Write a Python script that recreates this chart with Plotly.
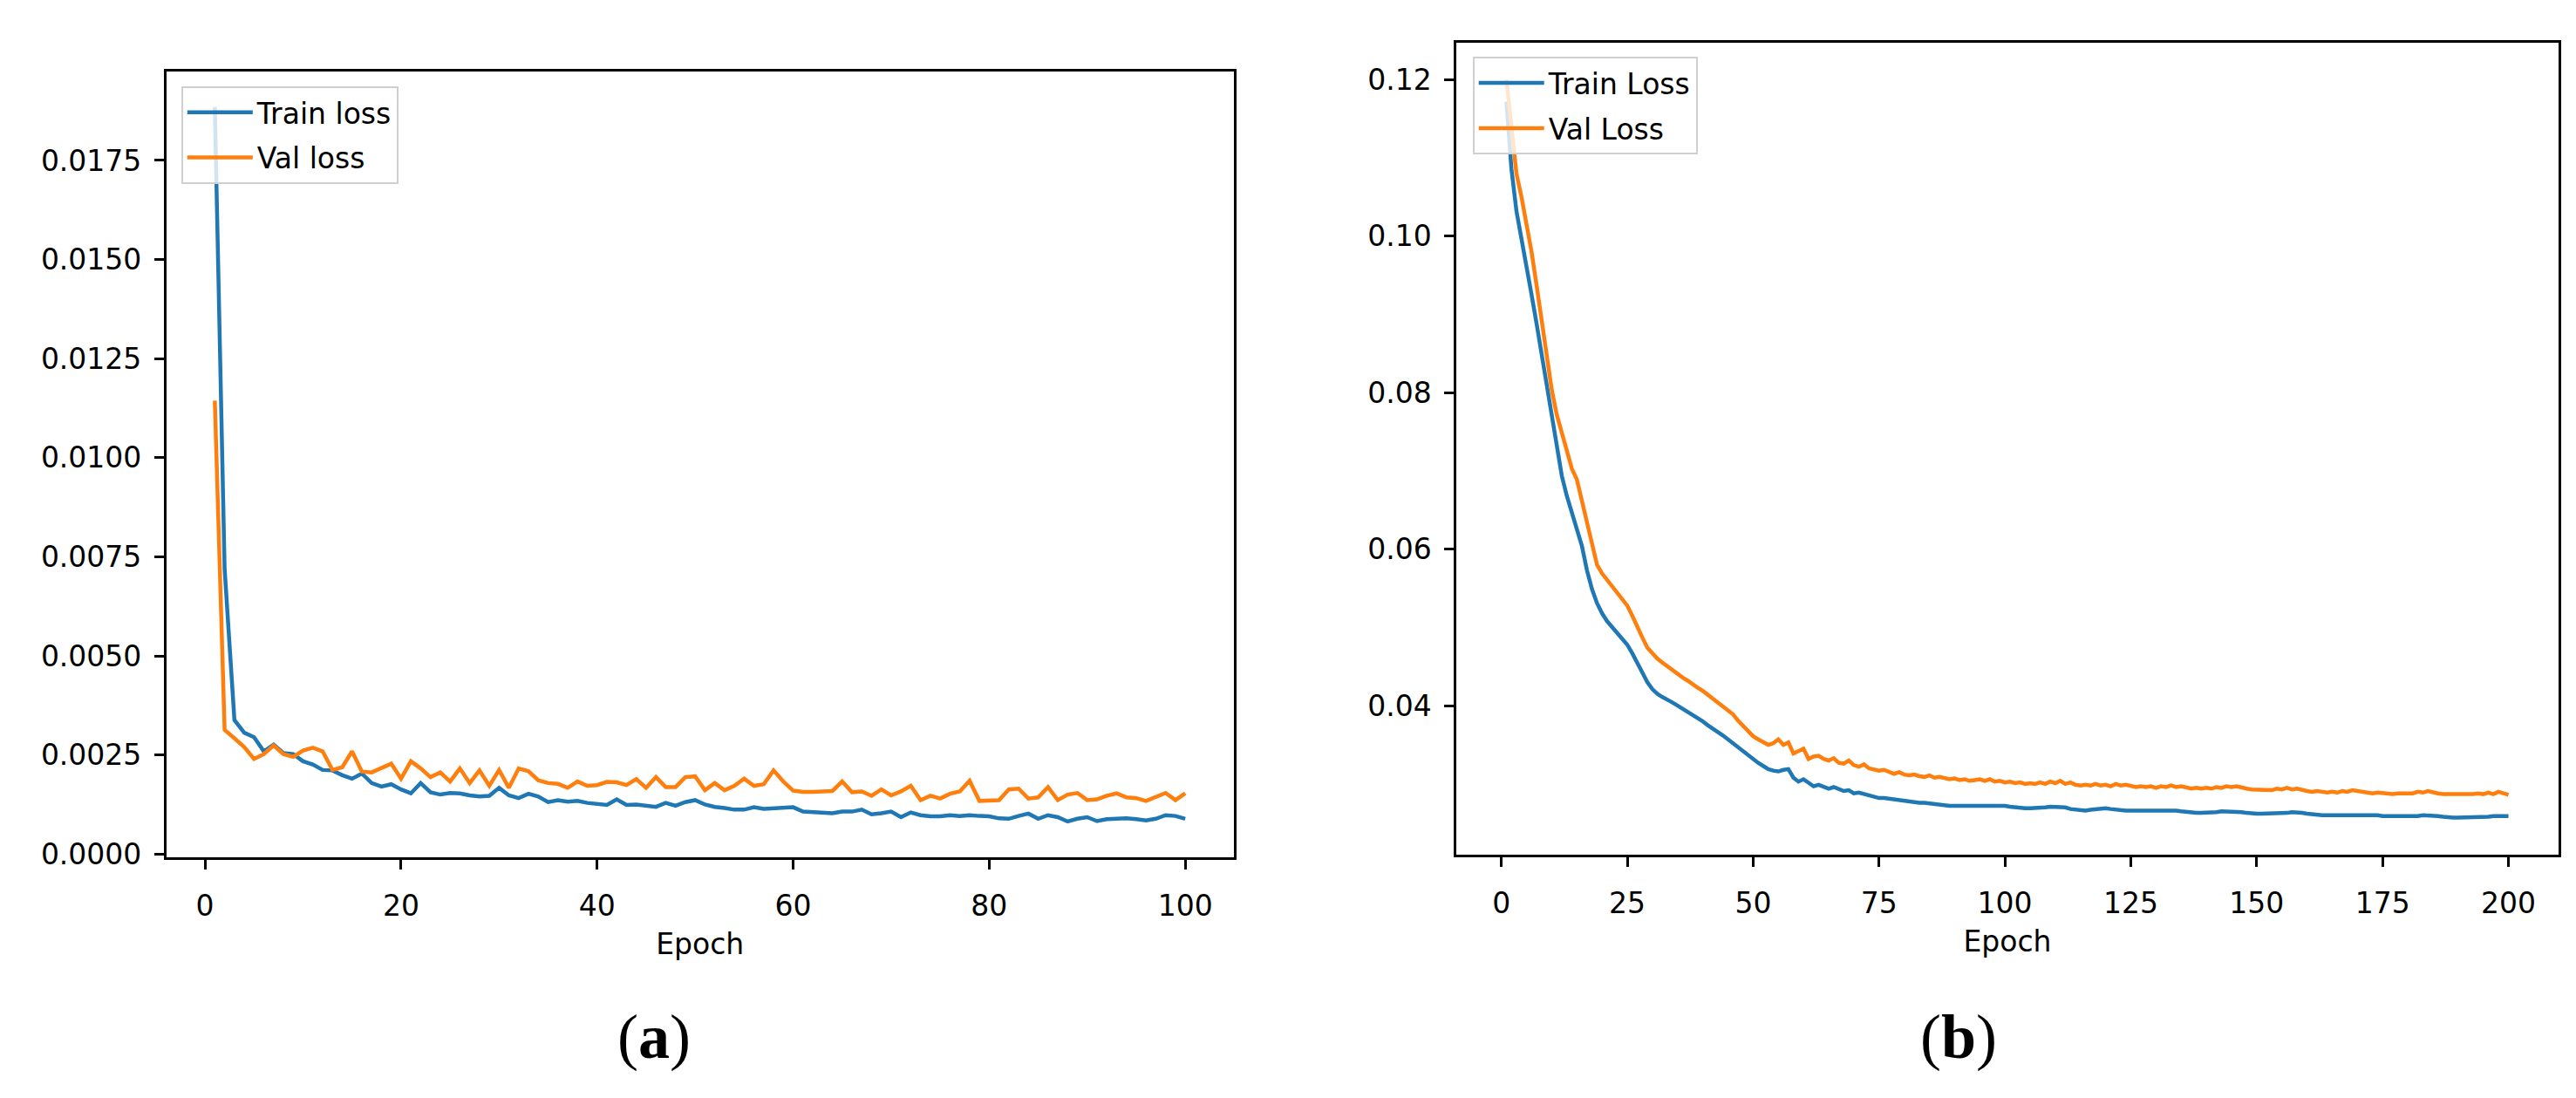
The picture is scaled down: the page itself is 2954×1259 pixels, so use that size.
import plotly.graph_objects as go

# ---------------- data: panel (a) ----------------
train_a = [0.01885, 0.0072, 0.00338, 0.00306, 0.00295, 0.00259, 0.00276, 0.00255, 0.00252, 0.00234,
           0.00226, 0.00212, 0.00211, 0.00199, 0.00190, 0.00203, 0.00179, 0.00170, 0.00176, 0.00163,
           0.00153, 0.00179, 0.00156, 0.00150, 0.00154, 0.00153, 0.00148, 0.00145, 0.00147, 0.00167,
           0.00148, 0.00141, 0.00152, 0.00145, 0.00131, 0.00136, 0.00132, 0.00134, 0.00129, 0.00127,
           0.00124, 0.00138, 0.00124, 0.00125, 0.00122, 0.00119, 0.00129, 0.00122, 0.00131, 0.00136,
           0.00125, 0.00119, 0.00116, 0.00112, 0.00112, 0.00118, 0.00114, 0.00116, 0.00118, 0.00118,
           0.00107, 0.00106, 0.00103, 0.00103, 0.00107, 0.00107, 0.00112, 0.00100, 0.00103, 0.00107,
           0.00093, 0.00105, 0.00098, 0.00095, 0.00095, 0.00098, 0.00096, 0.00098, 0.00096, 0.00095,
           0.00090, 0.00089, 0.00096, 0.00102, 0.00089, 0.00098, 0.00093, 0.00082, 0.00089, 0.00093,
           0.00083, 0.00088, 0.00089, 0.00090, 0.00088, 0.00085, 0.00089, 0.00098, 0.00096, 0.00089]
val_a = [0.01144, 0.00313, 0.00292, 0.00270, 0.00240, 0.00252, 0.00274, 0.00252, 0.00245, 0.00261,
         0.00268, 0.00259, 0.00212, 0.00219, 0.00259, 0.00208, 0.00206, 0.00216, 0.00228, 0.00190,
         0.00234, 0.00216, 0.00194, 0.00206, 0.00183, 0.00216, 0.00179, 0.00211, 0.00172, 0.00212,
         0.00167, 0.00216, 0.00209, 0.00186, 0.00179, 0.00177, 0.00167, 0.00183, 0.00172, 0.00174,
         0.00182, 0.00181, 0.00174, 0.00189, 0.00167, 0.00194, 0.00169, 0.00169, 0.00194, 0.00196,
         0.00161, 0.00179, 0.00161, 0.00172, 0.00190, 0.00172, 0.00176, 0.00211, 0.00183, 0.00160,
         0.00157, 0.00157, 0.00159, 0.00159, 0.00183, 0.00156, 0.00158, 0.00147, 0.00163, 0.00148,
         0.00158, 0.00172, 0.00136, 0.00147, 0.00140, 0.00152, 0.00158, 0.00185, 0.00134, 0.00136,
         0.00136, 0.00163, 0.00165, 0.00140, 0.00143, 0.00169, 0.00136, 0.00150, 0.00154, 0.00136,
         0.00138, 0.00147, 0.00153, 0.00143, 0.00141, 0.00134, 0.00143, 0.00154, 0.00136, 0.00153]
epochs_a = list(range(1, len(train_a) + 1))

# ---------------- data: panel (b) ----------------
train_b = [0.1172, 0.1086, 0.1032, 0.0998, 0.0962, 0.0925, 0.0888, 0.0848, 0.0811, 0.0775,
           0.0733, 0.0694, 0.0668, 0.0647, 0.0626, 0.0604, 0.0573, 0.0549, 0.0531, 0.0518,
           0.0508, 0.0500, 0.0494, 0.0486, 0.0478, 0.0467, 0.0455, 0.0442, 0.0430, 0.0421,
           0.0415, 0.0411, 0.0408, 0.0404, 0.0400, 0.0396, 0.0393, 0.0389, 0.0384, 0.0380,
           0.0375, 0.0371, 0.0367, 0.0362, 0.0357, 0.0352, 0.0346, 0.0341, 0.0336, 0.0331,
           0.0327, 0.0323, 0.0319, 0.0317, 0.0316, 0.0318, 0.0319, 0.0308, 0.0303, 0.0306,
           0.0302, 0.0297, 0.0299, 0.0296, 0.0294, 0.0296, 0.0293, 0.0291, 0.0292, 0.0288,
           0.0289, 0.0287, 0.0286, 0.0284, 0.0282, 0.0282, 0.0281, 0.0280, 0.0279, 0.0278,
           0.0278, 0.0277, 0.0276, 0.0276, 0.0275, 0.0274, 0.0274, 0.0273, 0.0272, 0.0272,
           0.0272, 0.0272, 0.0272, 0.0272, 0.0272, 0.0272, 0.0273, 0.0273, 0.0273, 0.0272,
           0.0271, 0.0270, 0.0269, 0.0269, 0.0269, 0.0269, 0.0270, 0.0270, 0.0271, 0.0271,
           0.0271, 0.0270, 0.0268, 0.0267, 0.0266, 0.0266, 0.0267, 0.0268, 0.0268, 0.0269,
           0.0268, 0.0267, 0.0266, 0.0266, 0.0266, 0.0266, 0.0266, 0.0267, 0.0267, 0.0267,
           0.0267, 0.0267, 0.0266, 0.0266, 0.0265, 0.0264, 0.0264, 0.0263, 0.0263, 0.0263,
           0.0264, 0.0264, 0.0265, 0.0265, 0.0265, 0.0265, 0.0264, 0.0263, 0.0262, 0.0262,
           0.0262, 0.0262, 0.0262, 0.0263, 0.0263, 0.0263, 0.0264, 0.0264, 0.0263, 0.0262,
           0.0261, 0.0261, 0.0260, 0.0260, 0.0260, 0.0260, 0.0261, 0.0261, 0.0261, 0.0261,
           0.0261, 0.0261, 0.0261, 0.0260, 0.0259, 0.0259, 0.0258, 0.0258, 0.0258, 0.0258,
           0.0259, 0.0259, 0.0260, 0.0260, 0.0260, 0.0259, 0.0258, 0.0257, 0.0257, 0.0257,
           0.0257, 0.0257, 0.0257, 0.0258, 0.0258, 0.0258, 0.0259, 0.0259, 0.0259, 0.0259]
val_b = [0.1200, 0.1136, 0.1080, 0.1050, 0.1017, 0.0980, 0.0937, 0.0890, 0.0845, 0.0804,
         0.0772, 0.0750, 0.0727, 0.0703, 0.0689, 0.0661, 0.0632, 0.0603, 0.0580, 0.0569,
         0.0561, 0.0552, 0.0545, 0.0537, 0.0528, 0.0515, 0.0500, 0.0487, 0.0474, 0.0466,
         0.0460, 0.0455, 0.0450, 0.0445, 0.0440, 0.0436, 0.0432, 0.0427, 0.0423, 0.0419,
         0.0414, 0.0410, 0.0405, 0.0400, 0.0395, 0.0389, 0.0381, 0.0374, 0.0367, 0.0361,
         0.0357, 0.0353, 0.0350, 0.0352, 0.0357, 0.0350, 0.0353, 0.0339, 0.0342, 0.0345,
         0.0332, 0.0335, 0.0336, 0.0332, 0.0330, 0.0333, 0.0327, 0.0326, 0.0330, 0.0324,
         0.0322, 0.0325, 0.0320, 0.0318, 0.0317, 0.0318, 0.0315, 0.0313, 0.0315, 0.0312,
         0.0311, 0.0312, 0.0310, 0.0309, 0.0311, 0.0308, 0.0309, 0.0307, 0.0306, 0.0307,
         0.0305, 0.0306, 0.0304, 0.0305, 0.0306, 0.0304, 0.0306, 0.0303, 0.0304, 0.0302,
         0.0303, 0.0301, 0.0302, 0.0300, 0.0301, 0.0300, 0.0302, 0.0300, 0.0303, 0.0301,
         0.0304, 0.0300, 0.0302, 0.0299, 0.0298, 0.0299, 0.0298, 0.0300, 0.0298, 0.0299,
         0.0297, 0.0300, 0.0298, 0.0299, 0.0297, 0.0296, 0.0297, 0.0296, 0.0297, 0.0295,
         0.0297, 0.0296, 0.0298, 0.0296, 0.0297, 0.0295, 0.0294, 0.0295, 0.0294, 0.0295,
         0.0294, 0.0296, 0.0295, 0.0297, 0.0296, 0.0297, 0.0295, 0.0294, 0.0293, 0.0293,
         0.0292, 0.0293, 0.0292, 0.0294, 0.0293, 0.0295, 0.0293, 0.0294, 0.0292, 0.0291,
         0.0290, 0.0291, 0.0290, 0.0289, 0.0290, 0.0289, 0.0291, 0.0290, 0.0292, 0.0291,
         0.0290, 0.0289, 0.0288, 0.0289, 0.0288, 0.0288, 0.0287, 0.0288, 0.0288, 0.0289,
         0.0288, 0.0290, 0.0289, 0.0291, 0.0289, 0.0288, 0.0287, 0.0287, 0.0286, 0.0287,
         0.0287, 0.0286, 0.0287, 0.0288, 0.0287, 0.0289, 0.0287, 0.0290, 0.0288, 0.0286]
epochs_b = list(range(1, len(train_b) + 1))

xticks_a = [0, 20, 40, 60, 80, 100]
yticks_a = [0.0, 0.0025, 0.005, 0.0075, 0.01, 0.0125, 0.015, 0.0175]
xticks_b = [0, 25, 50, 75, 100, 125, 150, 175, 200]
yticks_b = [0.04, 0.06, 0.08, 0.10, 0.12]

BLUE = "#1f77b4"
ORANGE = "#ff7f0e"
W, H = 2954, 1259
FONT = "DejaVu Sans"
FS = 33
LW = 4.5


def mpl_range(vals):
    lo, hi = min(vals), max(vals)
    pad = 0.05 * (hi - lo)
    return [lo - pad, hi + pad]


fig = go.Figure()
fig.add_trace(go.Scatter(x=epochs_a, y=train_a, mode="lines", name="Train loss",
                         line=dict(color=BLUE, width=LW), xaxis="x", yaxis="y",
                         legend="legend", legendgroup="a1"))
fig.add_trace(go.Scatter(x=epochs_a, y=val_a, mode="lines", name="Val loss",
                         line=dict(color=ORANGE, width=LW), xaxis="x", yaxis="y",
                         legend="legend", legendgroup="a2"))
fig.add_trace(go.Scatter(x=epochs_b, y=train_b, mode="lines", name="Train Loss",
                         line=dict(color=BLUE, width=LW), xaxis="x2", yaxis="y2",
                         legend="legend2", legendgroup="b1"))
fig.add_trace(go.Scatter(x=epochs_b, y=val_b, mode="lines", name="Val Loss",
                         line=dict(color=ORANGE, width=LW), xaxis="x2", yaxis="y2",
                         legend="legend2", legendgroup="b2"))

axis_common = dict(showline=True, mirror=True, linecolor="black", linewidth=2.5,
                   ticks="outside", ticklen=11, tickwidth=2.5, tickcolor="black",
                   showgrid=False, zeroline=False,
                   tickfont=dict(family=FONT, size=FS, color="black"))

rx_a = mpl_range(epochs_a)
ry_a = mpl_range(train_a + val_a)
rx_b = mpl_range(epochs_b)
ry_b = mpl_range(train_b + val_b)

legend_common = dict(xanchor="left", yanchor="top",
                     bgcolor="rgba(255,255,255,0.8)", bordercolor="#d0d0d0", borderwidth=2,
                     font=dict(family=FONT, size=FS, color="black"), itemwidth=75,
                     tracegroupgap=6, traceorder="grouped")

fig.update_layout(
    width=W, height=H,
    margin=dict(l=0, r=0, t=0, b=0),
    paper_bgcolor="white", plot_bgcolor="white",
    font=dict(family=FONT, size=FS, color="black"),
    xaxis=dict(domain=[190.7 / W, 1414.8 / W], anchor="y", range=rx_a,
               tickvals=xticks_a, ticktext=[str(v) for v in xticks_a],
               ticklabelstandoff=14,
               title=dict(text="Epoch", font=dict(family=FONT, size=FS), standoff=14),
               **axis_common),
    yaxis=dict(domain=[1 - 995.6 / H, 1 - 82.7 / H], anchor="x", range=ry_a,
               tickvals=yticks_a, ticktext=[f"{v:.4f}" for v in yticks_a],
               ticklabelstandoff=8, **axis_common),
    xaxis2=dict(domain=[1670 / W, 2934 / W], anchor="y2", range=rx_b,
                tickvals=xticks_b, ticktext=[str(v) for v in xticks_b],
                ticklabelstandoff=14,
                title=dict(text="Epoch", font=dict(family=FONT, size=FS), standoff=14),
                **axis_common),
    yaxis2=dict(domain=[1 - 992.4 / H, 1 - 49.8 / H], anchor="x2", range=ry_b,
                tickvals=yticks_b, ticktext=[f"{v:.2f}" for v in yticks_b],
                ticklabelstandoff=8, **axis_common),
    legend=dict(x=207.8 / W, y=1 - 100 / H, **legend_common),
    legend2=dict(x=1688.7 / W, y=1 - 66 / H, **legend_common),
    annotations=[
        dict(text="(<b>a</b>)", x=750 / W, y=1 - 1204 / H, xref="paper", yref="paper",
             xanchor="center", yanchor="middle", showarrow=False,
             font=dict(family="Liberation Serif", size=72, color="black")),
        dict(text="(<b>b</b>)", x=2246 / W, y=1 - 1204 / H, xref="paper", yref="paper",
             xanchor="center", yanchor="middle", showarrow=False,
             font=dict(family="Liberation Serif", size=72, color="black")),
    ],
    showlegend=True,
)

fig.write_html("out.html", include_plotlyjs=True, config={"displayModeBar": False},
               post_script="document.body.style.margin='0';document.body.style.overflow='hidden';")
